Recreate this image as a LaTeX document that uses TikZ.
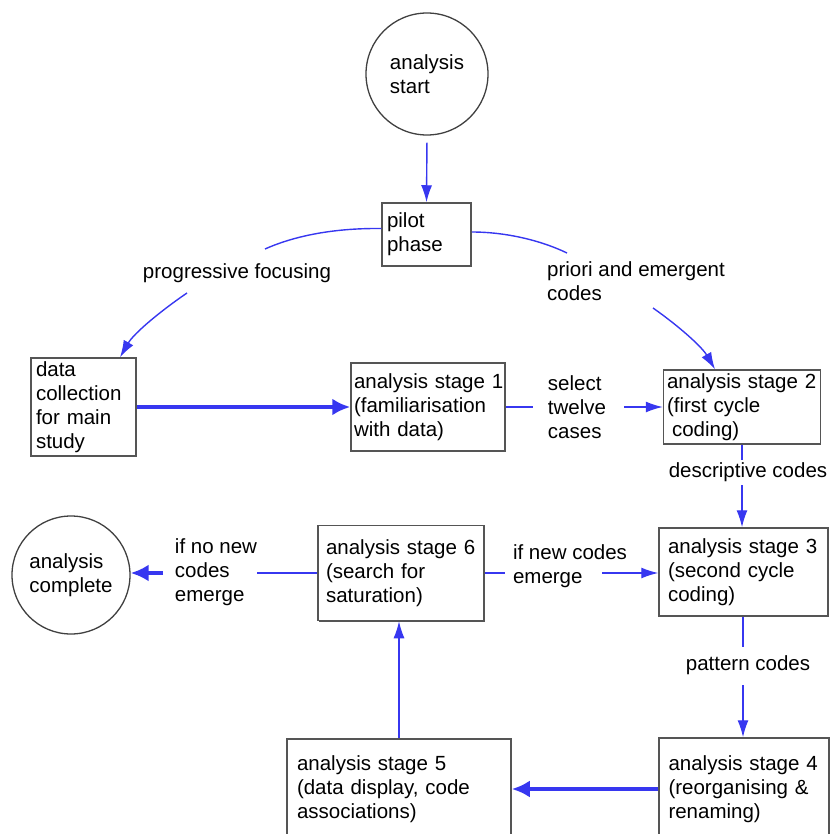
\documentclass[tikz,border=0pt]{standalone}
\usepackage{fontspec}
\setmainfont{Liberation Sans}
\usetikzlibrary{arrows.meta,shadows}
\definecolor{lb}{RGB}{55,55,240}
\definecolor{bd}{RGB}{85,85,85}
\begin{document}
\begin{tikzpicture}[x=1pt,y=-1pt,
  every node/.style={font=\fontsize{20.5}{24}\selectfont, text=black},
  box/.style={rectangle, draw=bd, line width=1.5pt, fill=white, align=left,
    drop shadow={shadow xshift=0.8pt, shadow yshift=-1.2pt, fill=bd, opacity=1}},
  ring/.style={circle, draw=black!75, line width=1.3pt, fill=white, align=left, inner sep=0pt},
  lbl/.style={inner sep=0pt, align=left},
  conn/.style={draw=lb, line width=1.4pt},
  thickconn/.style={draw=lb, line width=3.6pt},
  tip/.style={-{Latex[length=17pt,width=11pt]}},
  bigtip/.style={-{Latex[length=18pt,width=17pt]}}
]
\useasboundingbox (0,0) rectangle (832,834);

% nodes
\node[ring, minimum size=122pt] (start) at (427,74) {analysis\\start};
\node[box, minimum width=89pt, minimum height=63pt, text width=79pt, inner xsep=5pt] (pilot) at (426.5,234.5) {pilot\\phase};
\node[box, minimum width=105pt, minimum height=96pt, text width=95pt, inner xsep=5pt] (data) at (83.5,407) {data\\collection\\for main\\study};
\node[box, minimum width=154pt, minimum height=88pt, text width=148pt, inner xsep=3pt] (s1) at (428,407) {\mbox{analysis stage 1}\\(familiarisation\\with data)};
\node[box, minimum width=157pt, minimum height=71pt, text width=150pt, inner xsep=3.5pt] (s2) at (742,407) {\mbox{analysis stage 2}\\(first cycle\\\hspace*{5pt}coding)};
\node[box, minimum width=169pt, minimum height=88pt, text width=151pt, inner xsep=9pt] (s3) at (743.5,572) {analysis stage 3\\(second cycle\\coding)};
\node[box, minimum width=170pt, minimum height=102pt, text width=151pt, inner xsep=9.5pt] (s4) at (744,789) {analysis stage 4\\(reorganising \&\\renaming)};
\node[box, minimum width=224pt, minimum height=101pt, text width=204pt, inner xsep=10pt] (s5) at (399,789.5) {analysis stage 5\\(data display, code\\associations)};
\node[box, minimum width=166pt, minimum height=95pt, text width=150pt, inner xsep=8pt] (s6) at (401,573) {\mbox{analysis stage 6}\\(search for\\saturation)};
\node[ring, minimum size=118pt] (complete) at (71,575) {analysis\\complete};

% labels
\node[lbl] (pf) at (237,273) {progressive focusing};
\node[lbl] (pe) at (636,281) {priori and emergent\\codes};
\node[lbl] (st) at (577,407) {select\\twelve\\cases};
\node[lbl] (dc) at (748,472) {descriptive codes};
\node[lbl] (pc) at (748,665) {pattern codes};
\node[lbl] (nc) at (570,566) {if new codes\\emerge};
\node[lbl] (nn) at (216,572) {if no new\\codes\\emerge};

% gap coordinates
\coordinate (pfa) at (265,249);
\coordinate (pfb) at (187,293);
\coordinate (pea) at (567,253);
\coordinate (peb) at (653,308);
\coordinate (sta) at (533,407);
\coordinate (stb) at (624,407);
\coordinate (dca) at (742,460);
\coordinate (dcb) at (742,485);
\coordinate (pca) at (743,647);
\coordinate (pcb) at (743,685);
\coordinate (nca) at (505,573);
\coordinate (ncb) at (602,573);
\coordinate (nna) at (257,573);
\coordinate (nnb) at (163,573);

% connectors
\draw[conn,tip,shorten <=7pt] (start.south) -- (pilot.north);
\draw[conn] ([yshift=6pt]pilot.west) .. controls (330,228) and (292,237) .. (pfa);
\draw[conn,tip] (pfb) .. controls (162,310) and (134,333) .. ([xshift=36.5pt]data.north);
\draw[conn] ([yshift=2.5pt]pilot.east) .. controls (505,232) and (540,240) .. (pea);
\draw[conn,tip] (peb) .. controls (680,327) and (702,347) .. ([xshift=-27pt]s2.north);
\draw[thickconn,bigtip] (data.east) -- (s1.west);
\draw[conn] (s1.east) -- (sta);
\draw[conn,tip] (stb) -- (s2.west);
\draw[conn] (s2.south) -- (dca);
\draw[conn,tip] (dcb) -- (dcb |- s3.north);
\draw[conn] (s3.south -| pca) -- (pca);
\draw[conn,tip] (pcb) -- (pcb |- s4.north);
\draw[thickconn,bigtip] (s4.west) -- (s4.west -| s5.east);
\draw[conn,tip] (s5.north) -- (s5.north |- s6.south);
\draw[conn] (s6.east) -- (nca);
\draw[conn,tip] (ncb) -- (ncb -| s3.west);
\draw[conn] (s6.west) -- (nna);
\draw[thickconn,bigtip] (nnb) -- (nnb -| complete.east);
\end{tikzpicture}
\end{document}
